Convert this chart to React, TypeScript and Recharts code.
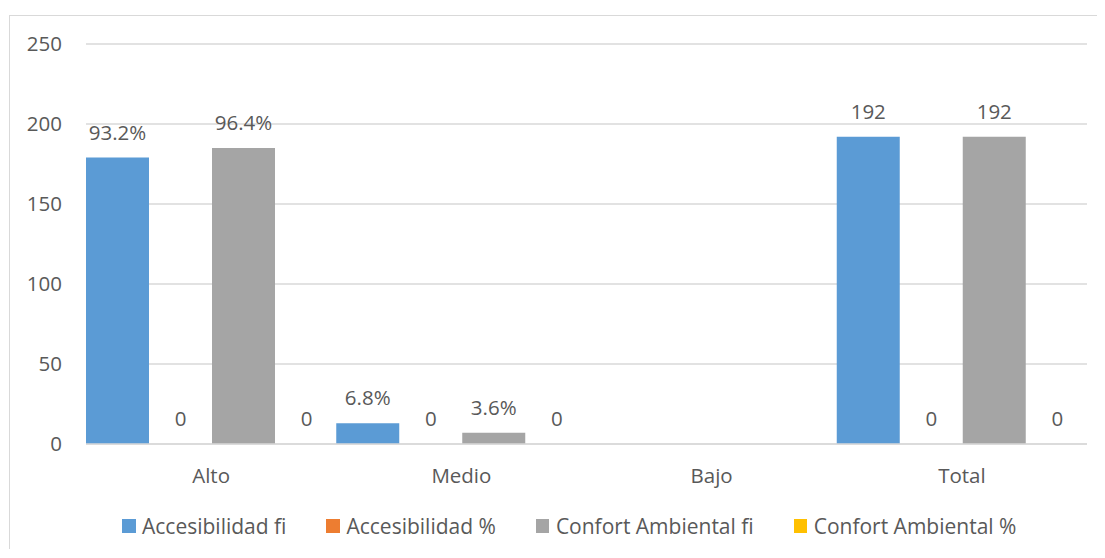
import React from 'react';
import { BarChart, Bar, XAxis, YAxis, CartesianGrid, LabelList, Legend } from 'recharts';

// Categories and series values
const categories = ['Alto', 'Medio', 'Bajo', 'Total'];
const accesibilidadFi = [179, 13, null, 192];
const accesibilidadPct = [0, 0, null, 0];
const confortFi = [185, 7, null, 192];
const confortPct = [0, 0, null, 0];

// Labels shown above the bars
const accesibilidadFiLabels = ['93.2%', '6.8%', null, '192'];
const confortFiLabels = ['96.4%', '3.6%', null, '192'];

const yTicks = [0, 50, 100, 150, 200, 250];

const seriesInfo = [
  { key: 'accFi', name: 'Accesibilidad fi', color: '#5B9BD5' },
  { key: 'accPct', name: 'Accesibilidad %', color: '#ED7D31' },
  { key: 'confFi', name: 'Confort Ambiental fi', color: '#A5A5A5' },
  { key: 'confPct', name: 'Confort Ambiental %', color: '#FFC000' },
];

const data = categories.map((cat, i) => ({
  cat,
  accFi: accesibilidadFi[i],
  accPct: accesibilidadPct[i],
  confFi: confortFi[i],
  confPct: confortPct[i],
  accFiLabel: accesibilidadFiLabels[i],
  confFiLabel: confortFiLabels[i],
  accPctLabel: accesibilidadPct[i] == null ? null : String(accesibilidadPct[i]),
  confPctLabel: confortPct[i] == null ? null : String(confortPct[i]),
}));

const FONT = '"Open Sans", "DejaVu Sans", sans-serif';
const TEXT = '#595959';
const FS = 20.5;

const renderLegend = () => (
  <div style={{ display: 'flex', alignItems: 'center', fontFamily: FONT, fontSize: 21, color: TEXT, height: 22 }}>
    {seriesInfo.map((s, i) => (
      <div key={s.key} style={{ display: 'flex', alignItems: 'center', marginRight: i < seriesInfo.length - 1 ? 40 : 0 }}>
        <span style={{ display: 'inline-block', width: 13.5, height: 13.5, background: s.color, marginRight: 6.5 }} />
        <span style={{ whiteSpace: 'nowrap' }}>{s.name}</span>
      </div>
    ))}
  </div>
);

// Label drawn above a bar's top edge, also for zero-height bars
const renderTopLabel = (props: any) => {
  const { x, y, width, value } = props;
  if (value == null || value === '') return null;
  return (
    <text
      x={Number(x) + Number(width) / 2}
      y={Number(y) - 18}
      textAnchor="middle"
      fill={TEXT}
      fontSize={FS}
      fontFamily={FONT}
    >
      {value}
    </text>
  );
};

export default function App() {
  return (
    <div style={{ position: 'relative', width: 1097, height: 541, overflow: 'hidden', background: '#fff' }}>
      <div
        style={{
          position: 'absolute',
          left: 1,
          top: 7,
          width: 2000,
          height: 2000,
          border: '1px solid #D9D9D9',
        }}
      />
      <div style={{ position: 'absolute', left: 0, top: 0 }}>
        <BarChart
          width={1097}
          height={541}
          data={data}
          margin={{ top: 36, right: 18, left: 0, bottom: 12 }}
          barCategoryGap={0}
          barGap={0}
          style={{ fontFamily: FONT }}
        >
          <CartesianGrid vertical={false} stroke="#D9D9D9" strokeWidth={1.3} />
          <XAxis
            dataKey="cat"
            height={71}
            tickLine={false}
            tickSize={0}
            tickMargin={24}
            axisLine={{ stroke: '#D9D9D9', strokeWidth: 1.3 }}
            tick={{ fill: TEXT, fontSize: FS, fontFamily: FONT }}
          />
          <YAxis
            width={78}
            domain={[0, 250]}
            ticks={yTicks}
            axisLine={false}
            tickLine={false}
            tickSize={0}
            tickMargin={24}
            tick={{ fill: TEXT, fontSize: FS, fontFamily: FONT }}
          />
          <Legend
            verticalAlign="bottom"
            content={renderLegend}
            wrapperStyle={{ left: 114, width: 980, height: 22 }}
          />
          <Bar dataKey="accFi" name="Accesibilidad fi" fill="#5B9BD5" isAnimationActive={false}>
            <LabelList dataKey="accFiLabel" content={renderTopLabel} />
          </Bar>
          <Bar dataKey="accPct" name="Accesibilidad %" fill="#ED7D31" minPointSize={0.01} isAnimationActive={false}>
            <LabelList dataKey="accPctLabel" content={renderTopLabel} />
          </Bar>
          <Bar dataKey="confFi" name="Confort Ambiental fi" fill="#A5A5A5" isAnimationActive={false}>
            <LabelList dataKey="confFiLabel" content={renderTopLabel} />
          </Bar>
          <Bar dataKey="confPct" name="Confort Ambiental %" fill="#FFC000" minPointSize={0.01} isAnimationActive={false}>
            <LabelList dataKey="confPctLabel" content={renderTopLabel} />
          </Bar>
        </BarChart>
      </div>
    </div>
  );
}
